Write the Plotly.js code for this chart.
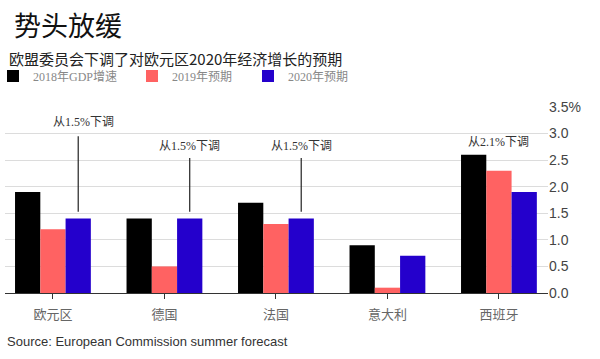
<!DOCTYPE html>
<html><head><meta charset="utf-8">
<script src="https://cdn.plot.ly/plotly-3.0.1.min.js"></script>
<style>html,body{margin:0;padding:0;background:#fff}#chart{width:600px;height:359px}</style>
</head><body><div id="chart"></div>
<script>
const categories = ['欧元区', '德国', '法国', '意大利', '西班牙'];
const growth2018 = [1.9, 1.4, 1.7, 0.9, 2.6];
const forecast2019 = [1.2, 0.5, 1.3, 0.1, 2.3];
const forecast2020 = [1.4, 1.4, 1.4, 0.7, 1.9];
const seriesNames = ['2018年GDP增速', '2019年预期', '2020年预期'];
const colors = ['#000000', '#ff6262', '#2400cc'];
const yTickVals = [0, 0.5, 1, 1.5, 2, 2.5, 3, 3.5];
const yTickText = ['0.0', '0.5', '1.0', '1.5', '2.0', '2.5', '3.0', '3.5%'];
// callouts: category index, label, has line, text y, line top y
const callouts = [
  {i: 0, text: '从1.5%下调', line: true, ty: 3.22, top: 2.95, dx: 0.05},
  {i: 1, text: '从1.5%下调', line: true, ty: 2.77, top: 2.54, dx: 0.0},
  {i: 2, text: '从1.5%下调', line: true, ty: 2.77, top: 2.54, dx: 0.0},
  {i: 4, text: '从2.1%下调', line: false, ty: 2.84, top: 0, dx: 0.0}
];

const sans = 'Liberation Sans, Noto Sans CJK SC, sans-serif';
const cjk = 'Noto Sans CJK SC, sans-serif';
const serif = 'Liberation Serif, Noto Sans CJK SC, serif';

const legendIds = ['legend', 'legend2', 'legend3'];
const legendX = [-0.0221, 0.2339, 0.4475];

const xIdx = categories.map((c, i) => i);
const traces = [growth2018, forecast2019, forecast2020].map((vals, k) => ({
  type: 'bar', x: xIdx, y: vals, name: seriesNames[k], legend: legendIds[k],
  marker: {color: colors[k], line: {width: 0}}, hoverinfo: 'skip'
}));

const barW = (1 - 0.32) / 3;
const shapes = [];
const annotations = [];
callouts.forEach(c => {
  const xb = c.i + barW;
  if (c.line) {
    shapes.push({type: 'line', xref: 'x', yref: 'y', x0: xb, x1: xb,
      y0: forecast2020[c.i] + 0.13, y1: c.top, line: {color: '#222', width: 1.2}});
  }
  annotations.push({xref: 'x', yref: 'y', x: c.line ? xb + c.dx : c.i, y: c.ty,
    text: c.text, showarrow: false, font: {family: serif, size: 12, color: '#333'}});
});
annotations.push({xref: 'paper', yref: 'paper', x: 0, xanchor: 'left', y: 0,
  yshift: -39, yanchor: 'top', text: 'Source: European Commission summer forecast',
  showarrow: false, font: {family: sans, size: 13, color: '#333'}});
annotations.push({xref: 'paper', yref: 'paper', x: 0, xanchor: 'left', xshift: 7,
  y: 1, yshift: 104, yanchor: 'top', text: '势头放缓', showarrow: false,
  font: {family: cjk, size: 27, color: '#111'}});
annotations.push({xref: 'paper', yref: 'paper', x: 0, xanchor: 'left', xshift: 2,
  y: 1, yshift: 61, yanchor: 'top', text: '欧盟委员会下调了对欧元区2020年经济增长的预期', showarrow: false,
  font: {family: cjk, size: 15, color: '#222'}});

const layout = {
  width: 600, height: 359,
  margin: {l: 5, r: 52, t: 107, b: 66, autoexpand: false},
  paper_bgcolor: '#fff', plot_bgcolor: '#fff',
  barmode: 'group', bargap: 0.32, bargroupgap: 0,
  showlegend: true,
  xaxis: {range: [-0.43, 4.44], tickvals: xIdx, ticktext: categories, automargin: false,
    showgrid: false, zeroline: false, showline: true, linecolor: '#333', linewidth: 1,
    ticks: 'outside', ticklen: 5, tickcolor: '#333', ticklabelstandoff: 4,
    tickfont: {family: cjk, size: 13, color: '#666'}, fixedrange: true},
  yaxis: {range: [0, 3.5], side: 'right', tickvals: yTickVals, ticktext: yTickText, automargin: false,
    showgrid: true, gridcolor: '#dcdcdc', gridwidth: 1, zeroline: false, showline: false,
    ticks: '', tickfont: {family: sans, size: 14, color: '#444'}, fixedrange: true},
  shapes: shapes, annotations: annotations
};
legendIds.forEach((id, k) => {
  layout[id] = {orientation: 'h', x: legendX[k], xanchor: 'left', y: 1.1667, yanchor: 'middle',
    font: {family: serif, size: 12, color: '#888'}, itemwidth: 30,
    bgcolor: 'rgba(0,0,0,0)'};
});
Plotly.newPlot('chart', traces, layout, {displayModeBar: false, staticPlot: true});
</script></body></html>
